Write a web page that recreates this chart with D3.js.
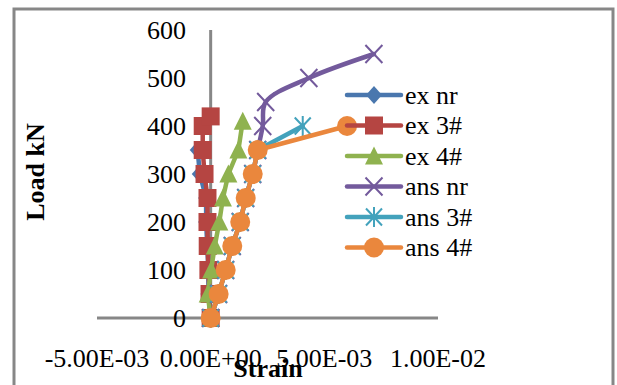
<!DOCTYPE html>
<html>
<head>
<meta charset="utf-8">
<script src="https://cdn.jsdelivr.net/npm/d3@7"></script>
<style>
  body { margin: 0; background: #fff; }
  svg { display: block; }
  text { font-family: "Liberation Serif", "Times New Roman", serif; fill: #000; }
</style>
</head>
<body>
<svg id="chart" width="617" height="385"></svg>
<script>
// Series metadata
const seriesNames = ["ex nr", "ex 3#", "ex 4#", "ans nr", "ans 3#", "ans 4#"];
const seriesColors = ["#4A77AE", "#B54542", "#8FB24F", "#735A9C", "#43A2BC", "#EA873D"];
const seriesMarkers = ["diamond", "square", "triangle", "cross", "asterisk", "circle"];

// Load (kN) and strain for each series
const exNrLoad = [0, 50, 100, 150, 200, 250, 300, 350];
const exNrStrain = [0, -0.0001, -0.0001, -0.00015, -0.0002, -0.0002, -0.00048, -0.00057];

const ex3Load = [0, 50, 100, 150, 200, 250, 300, 350, 400, 420];
const ex3Strain = [0, -0.00005, -0.0001, -0.00013, -0.00014, -0.00014, -0.00027, -0.00035, -0.00035, 0];

const ex4Load = [0, 50, 100, 150, 200, 250, 300, 350, 410];
const ex4Strain = [0, -0.00013, 0.00002, 0.00018, 0.00038, 0.00054, 0.00078, 0.00122, 0.00141];

const ansNrLoad = [0, 50, 100, 150, 200, 250, 300, 350, 400, 450, 500, 550];
const ansNrStrain = [0, 0.00035, 0.00066, 0.00095, 0.00130, 0.00154, 0.00185, 0.00207, 0.00229, 0.00242, 0.00432, 0.00718];

const ans3Load = [0, 50, 100, 150, 200, 250, 300, 350, 400];
const ans3Strain = [0, 0.00035, 0.00066, 0.00095, 0.00130, 0.00154, 0.00185, 0.00207, 0.00405];

const ans4Load = [0, 50, 100, 150, 200, 250, 300, 350, 400];
const ans4Strain = [0, 0.00035, 0.00066, 0.00095, 0.00130, 0.00154, 0.00185, 0.00207, 0.00600];

const xTicks = [-0.005, 0, 0.005, 0.01];
const xTickLabels = ["-5.00E-03", "0.00E+00", "5.00E-03", "1.00E-02"];
const yTicks = [0, 100, 200, 300, 400, 500, 600];

const loads = [exNrLoad, ex3Load, ex4Load, ansNrLoad, ans3Load, ans4Load];
const strains = [exNrStrain, ex3Strain, ex4Strain, ansNrStrain, ans3Strain, ans4Strain];
const series = seriesNames.map((name, i) => ({
  name,
  color: seriesColors[i],
  marker: seriesMarkers[i],
  points: loads[i].map((l, j) => ({ x: strains[i][j], y: l })),
  smooth: name === "ans nr"
}));

const svg = d3.select("#chart");
const axisGrey = "#878787";

// Outer chart frame
svg.append("rect")
  .attr("x", 14).attr("y", 9).attr("width", 599).attr("height", 400)
  .attr("fill", "none").attr("stroke", axisGrey).attr("stroke-width", 3);

const x = d3.scaleLinear().domain([-0.005, 0.01]).range([97, 438]);
const y = d3.scaleLinear().domain([0, 600]).range([318, 30]);

// Axis lines (crossing at strain 0 / load 0)
svg.append("line")
  .attr("x1", x(-0.005)).attr("x2", x(0.01))
  .attr("y1", y(0)).attr("y2", y(0))
  .attr("stroke", axisGrey).attr("stroke-width", 3);
svg.append("line")
  .attr("x1", x(0)).attr("x2", x(0))
  .attr("y1", y(600)).attr("y2", y(0))
  .attr("stroke", axisGrey).attr("stroke-width", 3);

// Tick labels
svg.append("g").selectAll("text").data(yTicks).join("text")
  .attr("x", 186).attr("y", d => y(d)).attr("dy", "0.34em")
  .attr("text-anchor", "end").attr("font-size", 26)
  .text(d => d);

svg.append("g").selectAll("text").data(xTicks).join("text")
  .attr("x", d => x(d)).attr("y", 367)
  .attr("text-anchor", "middle").attr("font-size", 26)
  .text((d, i) => xTickLabels[i]);

// Axis titles
svg.append("text")
  .attr("transform", "translate(44,172) rotate(-90)")
  .attr("text-anchor", "middle").attr("font-size", 26).attr("font-weight", "bold")
  .text("Load kN");
svg.append("text")
  .attr("x", 268).attr("y", 377)
  .attr("text-anchor", "middle").attr("font-size", 26).attr("font-weight", "bold")
  .text("Strain");

// Marker drawing
function drawMarker(g, type, color) {
  switch (type) {
    case "diamond":
      g.append("path").attr("d", "M0,-9L8,0L0,9L-8,0Z").attr("fill", color);
      break;
    case "square":
      g.append("rect").attr("x", -9).attr("y", -9).attr("width", 18).attr("height", 18).attr("fill", color);
      break;
    case "triangle":
      g.append("path").attr("d", "M0,-9.5L9,8.5L-9,8.5Z").attr("fill", color);
      break;
    case "cross":
      g.append("path").attr("d", "M-8.5,-9L8.5,9M-8.5,9L8.5,-9")
        .attr("stroke", color).attr("stroke-width", 2).attr("fill", "none");
      break;
    case "asterisk":
      g.append("path").attr("d", "M-8,-8.5L8,8.5M-8,8.5L8,-8.5M0,-10L0,10")
        .attr("stroke", color).attr("stroke-width", 2).attr("fill", "none");
      break;
    case "circle":
      g.append("circle").attr("r", 10).attr("fill", color);
      break;
  }
}

// Series lines and markers
const plot = svg.append("g");
series.forEach(s => {
  const line = d3.line()
    .x(d => x(d.x)).y(d => y(d.y))
    .curve(s.smooth ? d3.curveCatmullRom.alpha(0.5) : d3.curveLinear);
  const g = plot.append("g");
  g.append("path").datum(s.points)
    .attr("d", line)
    .attr("fill", "none").attr("stroke", s.color)
    .attr("stroke-width", 4.5).attr("stroke-linejoin", "round").attr("stroke-linecap", "round");
  s.points.forEach(p => {
    const m = g.append("g").attr("transform", `translate(${x(p.x)},${y(p.y)})`);
    drawMarker(m, s.marker, s.color);
  });
});

// Legend
const legend = svg.append("g");
series.forEach((s, i) => {
  const ly = 95 + i * 30.5;
  const row = legend.append("g");
  row.append("line")
    .attr("x1", 347).attr("x2", 401).attr("y1", ly).attr("y2", ly)
    .attr("stroke", s.color).attr("stroke-width", 4.5).attr("stroke-linecap", "round");
  const m = row.append("g").attr("transform", `translate(374,${ly})`);
  drawMarker(m, s.marker, s.color);
  row.append("text")
    .attr("x", 405).attr("y", ly).attr("dy", "0.34em")
    .attr("font-size", 26)
    .text(s.name);
});
</script>
</body>
</html>
